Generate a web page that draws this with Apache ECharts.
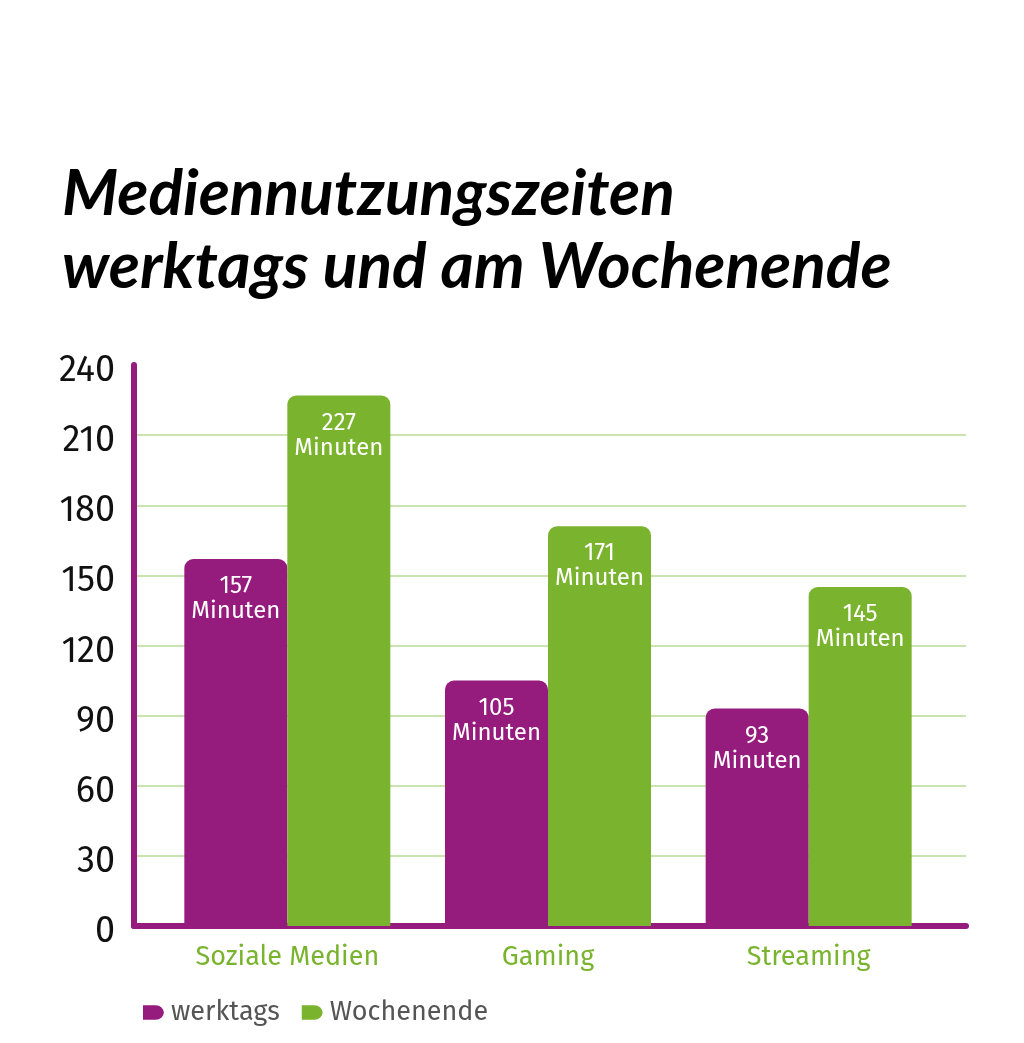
<!DOCTYPE html>
<html>
<head>
<meta charset="utf-8">
<script src="https://cdn.jsdelivr.net/npm/echarts@6/dist/echarts.min.js"></script>
<style>
  html, body { margin: 0; padding: 0; background: #fff; }
  #chart { width: 1024px; height: 1043px; }
</style>
</head>
<body>
<div id="chart"></div>
<script>
// Daten
const categories = ['Soziale Medien', 'Gaming', 'Streaming']
const werktags = [157, 105, 93]
const wochenende = [227, 171, 145]
const yTicks = { min: 0, max: 240, interval: 30 }

const PURPLE = '#951b7d'
const GREEN = '#7ab32e'
const GRIDGREEN = '#b9db94'
const FONT = '"Fira Sans", "Open Sans", "Noto Sans", sans-serif'

let chart = echarts.init(document.getElementById('chart'))

// Raster-Farben: Linie bei 0 und 240 ausblenden
let splitColors = []
for (let v = yTicks.min; v <= yTicks.max; v += yTicks.interval) {
    splitColors.push(v === yTicks.min || v === yTicks.max ? 'rgba(0,0,0,0)' : GRIDGREEN)
}

const legendIcon = 'path://M0,0 H12 A8,8 0 0 1 20,8 V6 A8,8 0 0 1 12,14 H0 Z'

const barLabel = {
    show: true,
    position: 'insideTop',
    distance: 15,
    color: '#fff',
    fontFamily: FONT,
    fontSize: 24,
    lineHeight: 25,
    formatter: p => p.value + '\nMinuten'
}

let option = {
    backgroundColor: '#fff',
    animation: false,
    title: {
        text: 'Mediennutzungszeiten\nwerktags und am Wochenende',
        left: 57,
        top: 153,
        textStyle: {
            fontFamily: 'Lato, "Open Sans", sans-serif',
            fontStyle: 'italic',
            fontWeight: 'bold',
            fontSize: 64,
            lineHeight: 73,
            color: '#000'
        }
    },
    legend: {
        left: 138,
        top: 994,
        icon: legendIcon,
        itemWidth: 21,
        itemHeight: 15,
        itemGap: 22,
        textStyle: { fontFamily: FONT, fontSize: 27, color: '#555', padding: [0, 0, 0, 2] },
        data: ['werktags', 'Wochenende']
    },
    grid: [
        // Achsen und Raster
        { left: 134, right: 58, top: 365, bottom: 117 },
        // Balken
        { left: 157, right: 85, top: 365, bottom: 117 }
    ],
    xAxis: [
        {
            gridIndex: 0,
            type: 'category',
            data: [''],
            axisLine: { show: true, lineStyle: { color: PURPLE, width: 6, cap: 'round' } },
            axisTick: { show: false },
            axisLabel: { show: false }
        },
        {
            gridIndex: 1,
            type: 'category',
            data: categories,
            axisLine: { show: false },
            axisTick: { show: false },
            axisLabel: { margin: 18, color: GREEN, fontFamily: FONT, fontSize: 27 }
        }
    ],
    yAxis: [
        {
            gridIndex: 0,
            type: 'value',
            min: yTicks.min,
            max: yTicks.max,
            interval: yTicks.interval,
            axisLine: { show: true, lineStyle: { color: PURPLE, width: 6, cap: 'round' } },
            axisTick: { show: false },
            axisLabel: {
                margin: 19,
                formatter: '{t|{value}}',
                rich: { t: { color: '#111', fontFamily: FONT, fontSize: 36, padding: [12, 0, 0, 0] } }
            },
            splitLine: { show: true, lineStyle: { color: splitColors, width: 1.5 } }
        },
        {
            gridIndex: 1,
            type: 'value',
            min: yTicks.min,
            max: yTicks.max,
            interval: yTicks.interval,
            axisLine: { show: false },
            axisTick: { show: false },
            axisLabel: { show: false },
            splitLine: { show: false }
        }
    ],
    series: [
        {
            name: 'werktags',
            type: 'bar',
            xAxisIndex: 1,
            yAxisIndex: 1,
            data: werktags,
            barWidth: 103,
            barGap: '0%',
            itemStyle: { color: PURPLE, borderRadius: [9, 9, 0, 0] },
            label: barLabel,
            z: 1
        },
        {
            name: 'Wochenende',
            type: 'bar',
            xAxisIndex: 1,
            yAxisIndex: 1,
            data: wochenende,
            barWidth: 103,
            barGap: '0%',
            itemStyle: { color: GREEN, borderRadius: [9, 9, 0, 0] },
            label: barLabel,
            z: 1
        }
    ]
}

chart.setOption(option)
</script>
</body>
</html>
